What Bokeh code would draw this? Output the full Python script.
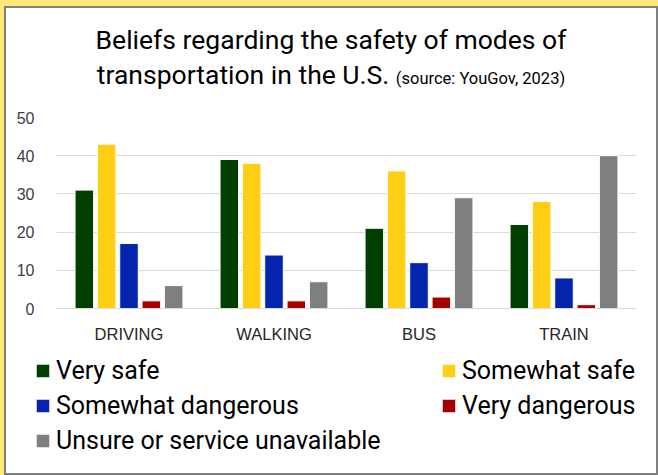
from bokeh.plotting import figure
from bokeh.models import (ColumnDataSource, FactorRange, Range1d, FixedTicker,
                          Legend, LegendItem, Div)
from bokeh.layouts import column
from bokeh.transform import dodge
from bokeh.embed import file_html
from bokeh.resources import INLINE

categories = ["DRIVING", "WALKING", "BUS", "TRAIN"]
series_names = ["Very safe", "Somewhat safe", "Somewhat dangerous", "Very dangerous",
                "Unsure or service unavailable"]
very_safe = [31, 39, 21, 22]
somewhat_safe = [43, 38, 36, 28]
somewhat_dangerous = [17, 14, 12, 8]
very_dangerous = [2, 2, 3, 1]
unsure = [6, 7, 29, 40]
colors = ["#013F01", "#FFCF15", "#0424AE", "#A50000", "#7F7F7F"]
y_ticks = [0, 10, 20, 30, 40, 50]
title_line1 = "Beliefs regarding the safety of modes of"
title_line2 = "transportation in the U.S."
title_source = "(source: YouGov, 2023)"

series_values = [very_safe, somewhat_safe, somewhat_dangerous, very_dangerous, unsure]

data = {"cat": categories}
keys = ["s0", "s1", "s2", "s3", "s4"]
for k, v in zip(keys, series_values):
    data[k] = v
source = ColumnDataSource(data)
offsets = [-0.308, -0.154, 0.0, 0.154, 0.308]

# ---------------- main chart ----------------
p = figure(x_range=FactorRange(*categories, range_padding=0), y_range=Range1d(0, 50),
           width=650, height=245, output_backend="svg", toolbar_location=None,
           min_border_left=50, min_border_right=20, min_border_top=17, min_border_bottom=37)
p.frame_align = False
p.outline_line_color = None
p.background_fill_color = "white"
p.border_fill_color = "white"

for k, off, c in zip(keys, offsets, colors):
    p.vbar(x=dodge("cat", off, range=p.x_range), top=k, width=0.128, bottom=0,
           source=source, fill_color=c, line_color="white", line_width=1)

p.yaxis.ticker = FixedTicker(ticks=y_ticks)
p.yaxis.axis_line_color = None
p.yaxis.major_tick_line_color = None
p.yaxis.minor_tick_line_color = None
p.yaxis.major_label_standoff = 16
p.yaxis.major_label_text_font = "Liberation Sans"
p.yaxis.major_label_text_font_size = "16px"
p.yaxis.major_label_text_color = "#404040"

p.xaxis.axis_line_color = "#d9d9d9"
p.xaxis.major_tick_line_color = None
p.xaxis.minor_tick_line_color = None
p.xaxis.major_label_standoff = 10
p.xaxis.major_label_text_font = "Liberation Sans"
p.xaxis.major_label_text_font_size = "16.5px"
p.xaxis.major_label_text_color = "#262626"

p.xgrid.grid_line_color = None
p.ygrid.grid_line_color = "#d9d9d9"
p.ygrid.ticker = FixedTicker(ticks=y_ticks)

tfont = "Roboto"

# ---------------- legend panel ----------------
lg = figure(x_range=FactorRange(*categories), y_range=Range1d(0, 50), width=650, height=128,
            output_backend="svg", toolbar_location=None,
            x_axis_location=None, y_axis_location=None,
            min_border_left=0, min_border_right=0, min_border_top=0, min_border_bottom=0)
lg.frame_align = False
lg.grid.visible = False
lg.outline_line_color = None
lg.background_fill_color = "white"
lg.border_fill_color = "white"

legend_renderers = []
for k, off, c in zip(keys, offsets, colors):
    legend_renderers.append(lg.vbar(x=dodge("cat", off, range=lg.x_range), top=k,
                                    width=0.128, bottom=0, source=source,
                                    fill_color=c, line_color="white", line_width=1,
                                    visible=False))

def make_legend(idx, loc):
    items = [LegendItem(label=series_names[i], renderers=[legend_renderers[i]]) for i in idx]
    return Legend(items=items, location=loc, orientation="vertical",
                  glyph_width=17, glyph_height=17, label_height=29, spacing=6,
                  label_standoff=5, padding=0, margin=0,
                  label_text_font=tfont, label_text_font_size="25px",
                  label_text_color="#000000", border_line_color=None,
                  background_fill_alpha=0, inactive_fill_alpha=0)

lg.add_layout(make_legend([0, 2, 4], (28, 18)))
lg.add_layout(make_legend([1, 3], (434, 53)))

# ---------------- title ----------------
title_html = (
    f'<div style="width:650px;text-align:center;font-family:Roboto;color:#000;'
    f'font-size:26.5px;line-height:35px;padding-top:14px;">'
    f'{title_line1}<br>{title_line2} '
    f'<span style="font-size:16.5px;">{title_source}</span></div>'
)
title_div = Div(text=title_html, width=650, height=92, margin=0)

inner = column(title_div, p, lg, spacing=0,
               styles={"border": "2px solid #7f7f7f", "background-color": "white"})
layout = column(inner, styles={"background-color": "#FFE977", "padding": "6px 0 0 4px"})

open("out.html", "w").write(file_html(layout, INLINE))
